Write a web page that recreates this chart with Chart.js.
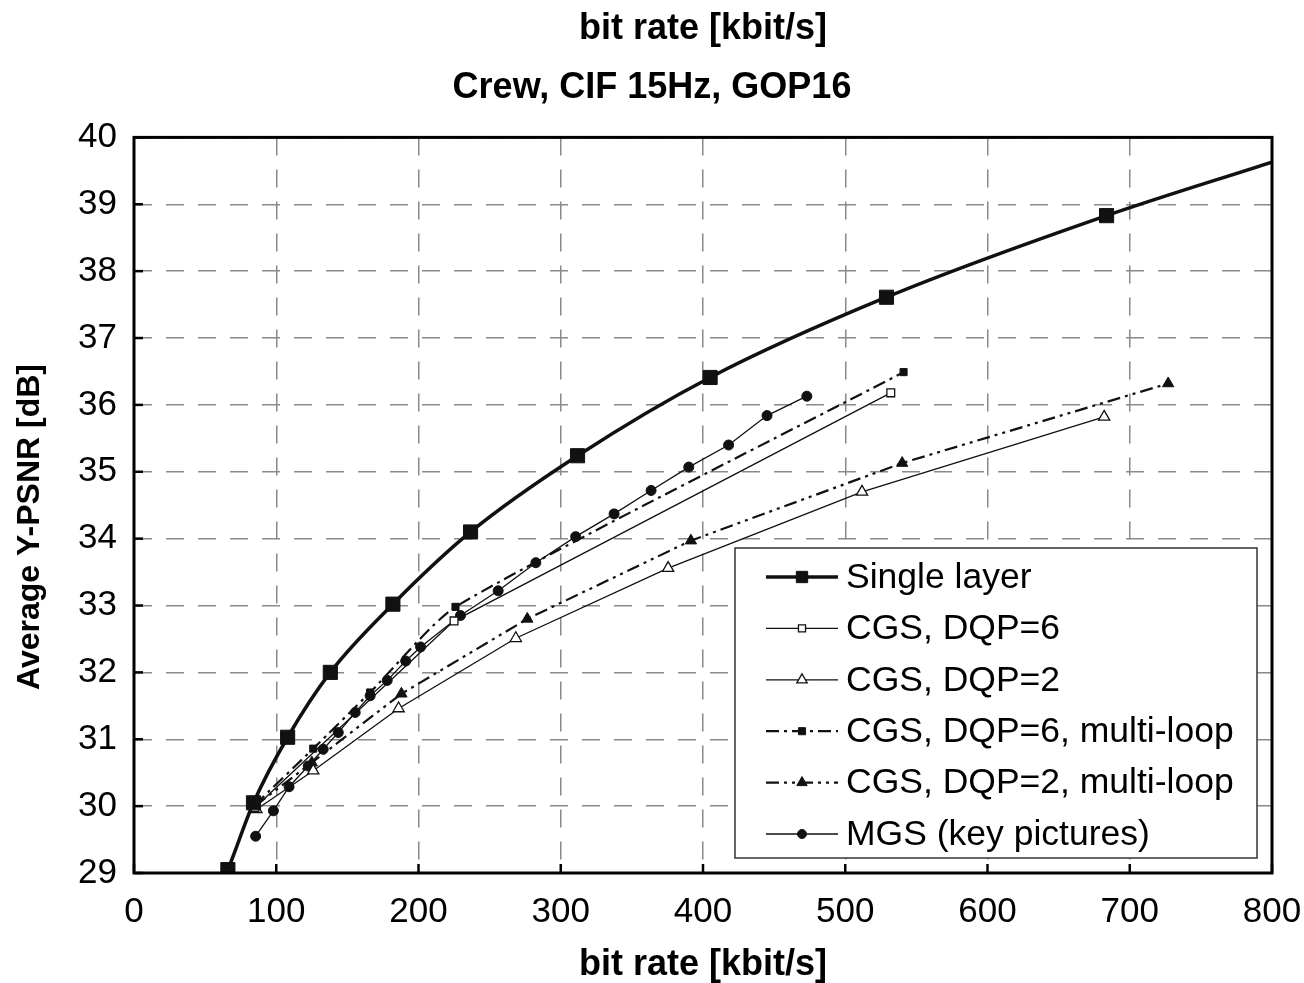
<!DOCTYPE html>
<html>
<head>
<meta charset="utf-8">
<script src="https://cdn.jsdelivr.net/npm/chart.js@4/dist/chart.umd.min.js"></script>
<style>
html,body{margin:0;padding:0;background:#fff;}
#wrap{width:1304px;height:983px;}
</style>
</head>
<body>
<div id="wrap"><canvas id="c" width="1304" height="983"></canvas></div>
<script>
// ---- data (kbit/s, dB) ----
const seriesLabels = ["Single layer", "CGS, DQP=6", "CGS, DQP=2", "CGS, DQP=6, multi-loop", "CGS, DQP=2, multi-loop", "MGS (key pictures)"];
const singleX = [62, 66, 84, 108, 138, 182, 236.6, 311.8, 405, 529, 683.7, 800];
const singleY = [28.86, 29.05, 30.05, 31.03, 32.0, 33.02, 34.1, 35.24, 36.41, 37.61, 38.83, 39.63];
const cgs6X = [85, 225, 532];
const cgs6Y = [29.98, 32.77, 36.18];
const cgs2X = [86, 126, 186, 268.4, 375.5, 511.8, 682];
const cgs2Y = [29.95, 30.53, 31.46, 32.51, 33.56, 34.7, 35.82];
const ml6X = [85, 126, 166, 226, 541];
const ml6Y = [30.02, 30.86, 31.7, 32.98, 36.49];
const ml2X = [85, 125, 188, 276.5, 391.5, 540, 727];
const ml2Y = [30.0, 30.65, 31.68, 32.8, 33.97, 35.13, 36.32];
const mgsX = [85.5, 98, 109, 122.5, 133, 143.6, 155.5, 166, 178, 191, 201.5, 229.5, 256, 282.5, 310.5, 337.5, 363.5, 390, 418, 445, 473];
const mgsY = [29.55, 29.93, 30.29, 30.6, 30.85, 31.1, 31.4, 31.65, 31.88, 32.17, 32.38, 32.85, 33.22, 33.64, 34.03, 34.37, 34.72, 35.07, 35.4, 35.84, 36.13];
const xTicks = [0, 100, 200, 300, 400, 500, 600, 700, 800];
const yTicks = [29, 30, 31, 32, 33, 34, 35, 36, 37, 38, 39, 40];
const titleText = "bit rate [kbit/s]";
const subtitleText = "Crew, CIF 15Hz, GOP16";
const xTitle = "bit rate [kbit/s]";
const yTitle = "Average Y-PSNR [dB]";

const pts = (xs, ys) => xs.map((x, i) => ({x: x, y: ys[i]}));
const INK = '#111';
const FONT = "'Liberation Sans', Arial, sans-serif";

const datasets = [
  {label: seriesLabels[0], data: pts(singleX, singleY), borderColor: INK, backgroundColor: INK, borderWidth: 3.5,
   pointStyle: 'rect', pointRadius: ctx => (ctx.dataIndex === 0 || ctx.dataIndex === singleX.length - 1) ? 0 : 10,
   pointBorderWidth: 1, cubicInterpolationMode: 'monotone', legendRadius: 8},
  {label: seriesLabels[1], data: pts(cgs6X, cgs6Y), borderColor: INK, backgroundColor: '#fff', borderWidth: 1.3,
   pointStyle: 'rect', pointRadius: 5.5, pointBorderWidth: 1.3, tension: 0, legendRadius: 5},
  {label: seriesLabels[2], data: pts(cgs2X, cgs2Y), borderColor: INK, backgroundColor: '#fff', borderWidth: 1.3,
   pointStyle: 'triangle', pointRadius: 6.5, pointBorderWidth: 1.3, tension: 0, legendRadius: 6},
  {label: seriesLabels[3], data: pts(ml6X, ml6Y), borderColor: INK, backgroundColor: INK, borderWidth: 2.2,
   borderDash: [13, 5, 3, 5], pointStyle: 'rect', pointRadius: 5, pointBorderWidth: 1, tension: 0.2, legendRadius: 5},
  {label: seriesLabels[4], data: pts(ml2X, ml2Y), borderColor: INK, backgroundColor: INK, borderWidth: 2.2,
   borderDash: [13, 5, 3, 5, 3, 5], pointStyle: 'triangle', pointRadius: 6.5, pointBorderWidth: 1, tension: 0, legendRadius: 6},
  {label: seriesLabels[5], data: pts(mgsX, mgsY), borderColor: INK, backgroundColor: INK, borderWidth: 1.3,
   pointStyle: 'circle', pointRadius: 5, pointBorderWidth: 1, tension: 0, legendRadius: 4.5}
];

const decor = {
  id: 'decor',
  beforeDraw(chart) {
    const c = chart.ctx;
    c.save(); c.fillStyle = '#fff'; c.fillRect(0, 0, chart.width, chart.height); c.restore();
  },
  afterDatasetsDraw(chart) {
    const c = chart.ctx, a = chart.chartArea;
    const xs = chart.scales.x, ys = chart.scales.y;
    c.save();
    // frame
    c.strokeStyle = '#000'; c.lineWidth = 3; c.setLineDash([]);
    c.strokeRect(a.left, a.top, a.right - a.left, a.bottom - a.top);
    // inward ticks
    c.lineWidth = 2.5;
    xTicks.forEach(v => { const px = xs.getPixelForValue(v); c.beginPath(); c.moveTo(px, a.bottom); c.lineTo(px, a.bottom - 9); c.stroke(); });
    yTicks.forEach(v => { const py = ys.getPixelForValue(v); c.beginPath(); c.moveTo(a.left, py); c.lineTo(a.left + 9, py); c.stroke(); });
    // y axis title (rotated)
    c.save();
    c.translate(30, 527);
    c.rotate(-Math.PI / 2);
    c.fillStyle = '#000';
    c.font = "bold 32px " + FONT; c.textAlign = 'center'; c.textBaseline = 'middle';
    c.fillText(yTitle, 0, 0);
    c.restore();
    // legend
    const bx = 735, by = 548, bw = 522, bh = 310;
    c.fillStyle = '#fff'; c.fillRect(bx, by, bw, bh);
    c.strokeStyle = '#333'; c.lineWidth = 1.5; c.strokeRect(bx, by, bw, bh);
    const rowY0 = 577, rowStep = 51.4;
    chart.data.datasets.forEach((ds, i) => {
      const y = rowY0 + i * rowStep;
      c.save();
      c.strokeStyle = ds.borderColor; c.lineWidth = ds.borderWidth;
      c.setLineDash(ds.borderDash || []);
      c.beginPath(); c.moveTo(766, y); c.lineTo(838, y); c.stroke();
      c.setLineDash([]);
      c.fillStyle = ds.backgroundColor; c.lineWidth = ds.pointBorderWidth;
      Chart.helpers.drawPoint(c, {pointStyle: ds.pointStyle, radius: ds.legendRadius, borderWidth: ds.pointBorderWidth, rotation: 0}, 802, y);
      c.restore();
      c.fillStyle = '#000';
      c.font = "35.5px " + FONT; c.textBaseline = 'middle'; c.textAlign = 'left';
      c.fillText(ds.label, 846, y + 1);
    });
    c.restore();
  }
};

new Chart(document.getElementById('c'), {
  type: 'line',
  data: {datasets: datasets},
  plugins: [decor],
  options: {
    responsive: false,
    animation: false,
    devicePixelRatio: 1,
    layout: {padding: {left: 0, right: 0, top: 0, bottom: 0}},
    plugins: {
      legend: {display: false},
      tooltip: {enabled: false},
      title: {display: true, fullSize: false, text: titleText, color: '#000',
        font: {family: FONT, size: 36, weight: 'bold', lineHeight: 1.2}, padding: {top: 7, bottom: 16}},
      subtitle: {display: true, fullSize: true, text: subtitleText, color: '#000',
        font: {family: FONT, size: 36, weight: 'bold', lineHeight: 1.2}, padding: {top: 0, bottom: 28}}
    },
    scales: {
      x: {type: 'linear', min: 0, max: 800,
        afterBuildTicks: s => { s.ticks = xTicks.map(v => ({value: v})); },
        afterFit: s => { s.height = 110; s.paddingRight = 32; s.paddingLeft = 10; },
        ticks: {color: '#000', font: {family: FONT, size: 35}, padding: 18, maxRotation: 0},
        grid: {color: '#8a8a8a', lineWidth: 1.5, drawTicks: false},
        border: {display: false, dash: [18, 14]},
        title: {display: true, text: xTitle, color: '#000', font: {family: FONT, size: 36, weight: 'bold', lineHeight: 1}, padding: {top: 0, bottom: 0}}
      },
      y: {type: 'linear', min: 29, max: 40,
        afterBuildTicks: s => { s.ticks = yTicks.map(v => ({value: v})); },
        afterFit: s => { s.width = 134; },
        ticks: {color: '#000', font: {family: FONT, size: 35}, padding: 17},
        grid: {color: '#8a8a8a', lineWidth: 1.5, drawTicks: false},
        border: {display: false, dash: [18, 14]},
        title: {display: false}
      }
    }
  }
});
</script>
</body>
</html>
